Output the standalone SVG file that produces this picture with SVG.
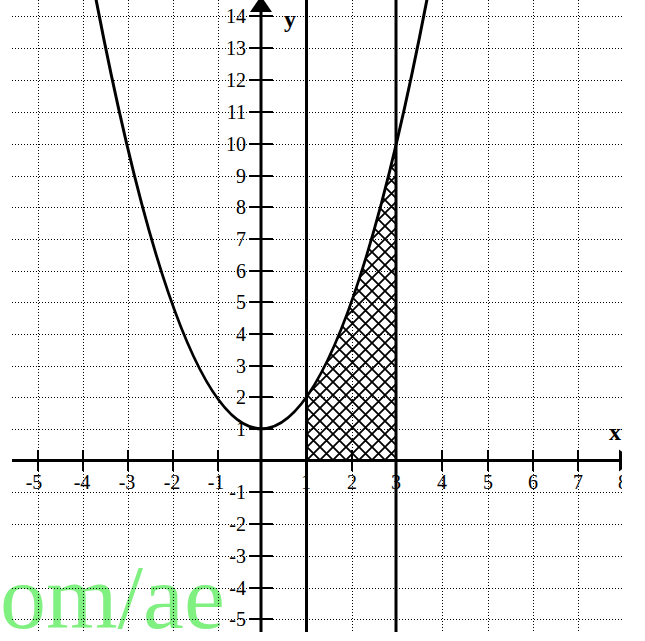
<svg xmlns="http://www.w3.org/2000/svg" width="645" height="641" viewBox="0 0 645 641">
<style>
.grid line{stroke:#000;stroke-width:1;stroke-dasharray:1 2}
.bold{stroke:#000;stroke-width:3;fill:none}
.tick line{stroke:#000;stroke-width:2}
.lbl{font-family:"Liberation Serif","Times New Roman",serif;font-size:20px;fill:#000}
.ax{font-family:"Liberation Serif","Times New Roman",serif;font-size:24px;font-weight:bold;fill:#000}
</style>
<defs>
<clipPath id="clip"><rect x="0" y="0" width="622" height="641"/></clipPath>
<pattern id="hatch" patternUnits="userSpaceOnUse" x="307" y="460" width="13" height="13">
<path d="M-1,-1 L14,14 M-1,14 L14,-1" stroke="#000" stroke-width="1.8"/>
</pattern>
</defs>
<rect width="645" height="641" fill="#fff"/>
<text id="watermark" x="0" y="628" font-family="Liberation Serif,Times New Roman,serif" font-size="92" fill="#80f080">om/ae</text>
<g clip-path="url(#clip)">
<g id="grid" class="grid">
<line x1="38.5" y1="0" x2="38.5" y2="631"/>
<line x1="83.5" y1="0" x2="83.5" y2="631"/>
<line x1="128.5" y1="0" x2="128.5" y2="631"/>
<line x1="173.5" y1="0" x2="173.5" y2="631"/>
<line x1="218.5" y1="0" x2="218.5" y2="631"/>
<line x1="352.5" y1="0" x2="352.5" y2="631"/>
<line x1="442.5" y1="0" x2="442.5" y2="631"/>
<line x1="488.5" y1="0" x2="488.5" y2="631"/>
<line x1="533.5" y1="0" x2="533.5" y2="631"/>
<line x1="578.5" y1="0" x2="578.5" y2="631"/>
<line x1="12" y1="16.5" x2="622" y2="16.5"/>
<line x1="12" y1="48.5" x2="622" y2="48.5"/>
<line x1="12" y1="80.5" x2="622" y2="80.5"/>
<line x1="12" y1="112.5" x2="622" y2="112.5"/>
<line x1="12" y1="144.5" x2="622" y2="144.5"/>
<line x1="12" y1="176.5" x2="622" y2="176.5"/>
<line x1="12" y1="207.5" x2="622" y2="207.5"/>
<line x1="12" y1="239.5" x2="622" y2="239.5"/>
<line x1="12" y1="271.5" x2="622" y2="271.5"/>
<line x1="12" y1="302.5" x2="622" y2="302.5"/>
<line x1="12" y1="334.5" x2="622" y2="334.5"/>
<line x1="12" y1="366.5" x2="622" y2="366.5"/>
<line x1="12" y1="397.5" x2="622" y2="397.5"/>
<line x1="12" y1="429.5" x2="622" y2="429.5"/>
<line x1="12" y1="492.5" x2="622" y2="492.5"/>
<line x1="12" y1="524.5" x2="622" y2="524.5"/>
<line x1="12" y1="556.5" x2="622" y2="556.5"/>
<line x1="12" y1="588.5" x2="622" y2="588.5"/>
<line x1="12" y1="619.5" x2="622" y2="619.5"/>
</g>
<g id="shaded-area">
<path d="M306.5,460.5 L306.5,397 Q351.5,333.5 396.5,143 L396.5,460.5 Z" fill="url(#hatch)"/>
</g>
<g id="curve">
<path class="bold" d="M92.75,-17.7 Q261.5,875.2 430.25,-17.7"/>
</g>
<g id="bounds">
<line class="bold" x1="306.5" y1="0" x2="306.5" y2="632"/>
<line class="bold" x1="396" y1="0" x2="396" y2="632"/>
</g>
<g id="axes">
<line class="bold" x1="12" y1="460.5" x2="620" y2="460.5"/>
<polygon points="634,460.5 619,449.5 619,471.5" fill="#000"/>
<line class="bold" x1="261" y1="8" x2="261" y2="632"/>
<polygon points="261,-4 250,12 272,12" fill="#000"/>
<g class="tick">
<line x1="38" y1="450" x2="38" y2="471"/>
<line x1="83" y1="450" x2="83" y2="471"/>
<line x1="128" y1="450" x2="128" y2="471"/>
<line x1="173" y1="450" x2="173" y2="471"/>
<line x1="218" y1="450" x2="218" y2="471"/>
<line x1="352" y1="450" x2="352" y2="471"/>
<line x1="442" y1="450" x2="442" y2="471"/>
<line x1="488" y1="450" x2="488" y2="471"/>
<line x1="533" y1="450" x2="533" y2="471"/>
<line x1="578" y1="450" x2="578" y2="471"/>
<line x1="249" y1="16" x2="273" y2="16"/>
<line x1="249" y1="48" x2="273" y2="48"/>
<line x1="249" y1="80" x2="273" y2="80"/>
<line x1="249" y1="112" x2="273" y2="112"/>
<line x1="249" y1="144" x2="273" y2="144"/>
<line x1="249" y1="176" x2="273" y2="176"/>
<line x1="249" y1="207" x2="273" y2="207"/>
<line x1="249" y1="239" x2="273" y2="239"/>
<line x1="249" y1="271" x2="273" y2="271"/>
<line x1="249" y1="302" x2="273" y2="302"/>
<line x1="249" y1="334" x2="273" y2="334"/>
<line x1="249" y1="366" x2="273" y2="366"/>
<line x1="249" y1="397" x2="273" y2="397"/>
<line x1="249" y1="429" x2="273" y2="429"/>
<line x1="249" y1="492" x2="273" y2="492"/>
<line x1="249" y1="524" x2="273" y2="524"/>
<line x1="249" y1="556" x2="273" y2="556"/>
<line x1="249" y1="588" x2="273" y2="588"/>
<line x1="249" y1="619" x2="273" y2="619"/>
</g>
</g>
<g id="x-labels" class="lbl" text-anchor="middle">
<text x="34" y="489">-5</text>
<text x="82" y="489">-4</text>
<text x="127" y="489">-3</text>
<text x="172" y="489">-2</text>
<text x="216" y="489">-1</text>
<text x="306" y="489">1</text>
<text x="352" y="489">2</text>
<text x="396" y="489">3</text>
<text x="442" y="489">4</text>
<text x="488" y="489">5</text>
<text x="533" y="489">6</text>
<text x="578" y="489">7</text>
<text x="623" y="489">8</text>
</g>
<g id="y-labels" class="lbl" text-anchor="end">
<text x="246" y="23">14</text>
<text x="246" y="55">13</text>
<text x="246" y="87">12</text>
<text x="246" y="119">11</text>
<text x="246" y="151">10</text>
<text x="246" y="183">9</text>
<text x="246" y="214">8</text>
<text x="246" y="246">7</text>
<text x="246" y="278">6</text>
<text x="246" y="309">5</text>
<text x="246" y="341">4</text>
<text x="246" y="373">3</text>
<text x="246" y="404">2</text>
<text x="246" y="436">1</text>
<text x="246" y="499">-1</text>
<text x="246" y="531">-2</text>
<text x="246" y="563">-3</text>
<text x="246" y="595">-4</text>
<text x="246" y="626">-5</text>
</g>
<text id="y-axis-label" class="ax" x="290" y="27" text-anchor="middle">y</text>
<text id="x-axis-label" class="ax" x="615" y="440" text-anchor="middle">x</text>
</g>
</svg>
